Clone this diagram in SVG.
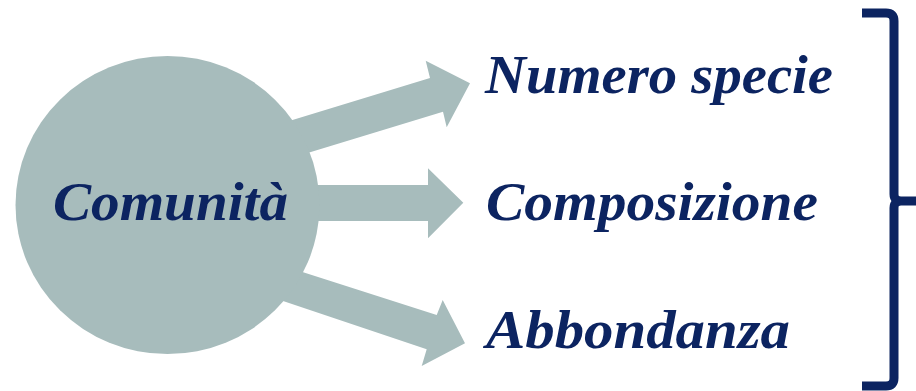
<svg xmlns="http://www.w3.org/2000/svg" width="916" height="391" viewBox="0 0 916 391">
<style>
.shape{fill:#a7bcbc;stroke:none}
.lbl{font-family:"Liberation Serif","Times New Roman",serif;font-style:italic;font-weight:bold;font-size:54px;fill:#0c2461}
.brace{fill:none;stroke:#0c2461;stroke-width:9;stroke-linejoin:round}
</style>
<rect width="916" height="391" fill="#ffffff"/>
<g id="connectors">
<polygon class="shape" points="250,133 430,78 425.7,60.7 470,83.3 446.7,127.3 443,111.7 260,167.5"/>
<polygon class="shape" points="250,185 428,185 428,168.3 463.3,202.7 428,238.3 428,221 250,221"/>
<polygon class="shape" points="240,252 436.7,315 442.7,300 465,343.3 421.7,366 426.7,349.3 240,286.6"/>
</g>
<g id="node-comunita">
<ellipse class="shape" cx="167.5" cy="205" rx="152" ry="149"/>
<text class="lbl" x="53" y="220" textLength="235" lengthAdjust="spacingAndGlyphs">Comunità</text>
</g>
<g id="node-numero">
<text class="lbl" x="485" y="93" textLength="348" lengthAdjust="spacingAndGlyphs">Numero specie</text>
</g>
<g id="node-composizione">
<text class="lbl" x="486" y="220" textLength="332" lengthAdjust="spacingAndGlyphs">Composizione</text>
</g>
<g id="node-abbondanza">
<text class="lbl" x="486" y="348" textLength="304" lengthAdjust="spacingAndGlyphs">Abbondanza</text>
</g>
<g id="brace">
<path class="brace" d="M862,13 H886 Q894,13 894,21 V194 Q894,201 901,201 H916 M901,201 Q894,201 894,208 V378 Q894,386 886,386 H862"/>
</g>
</svg>
